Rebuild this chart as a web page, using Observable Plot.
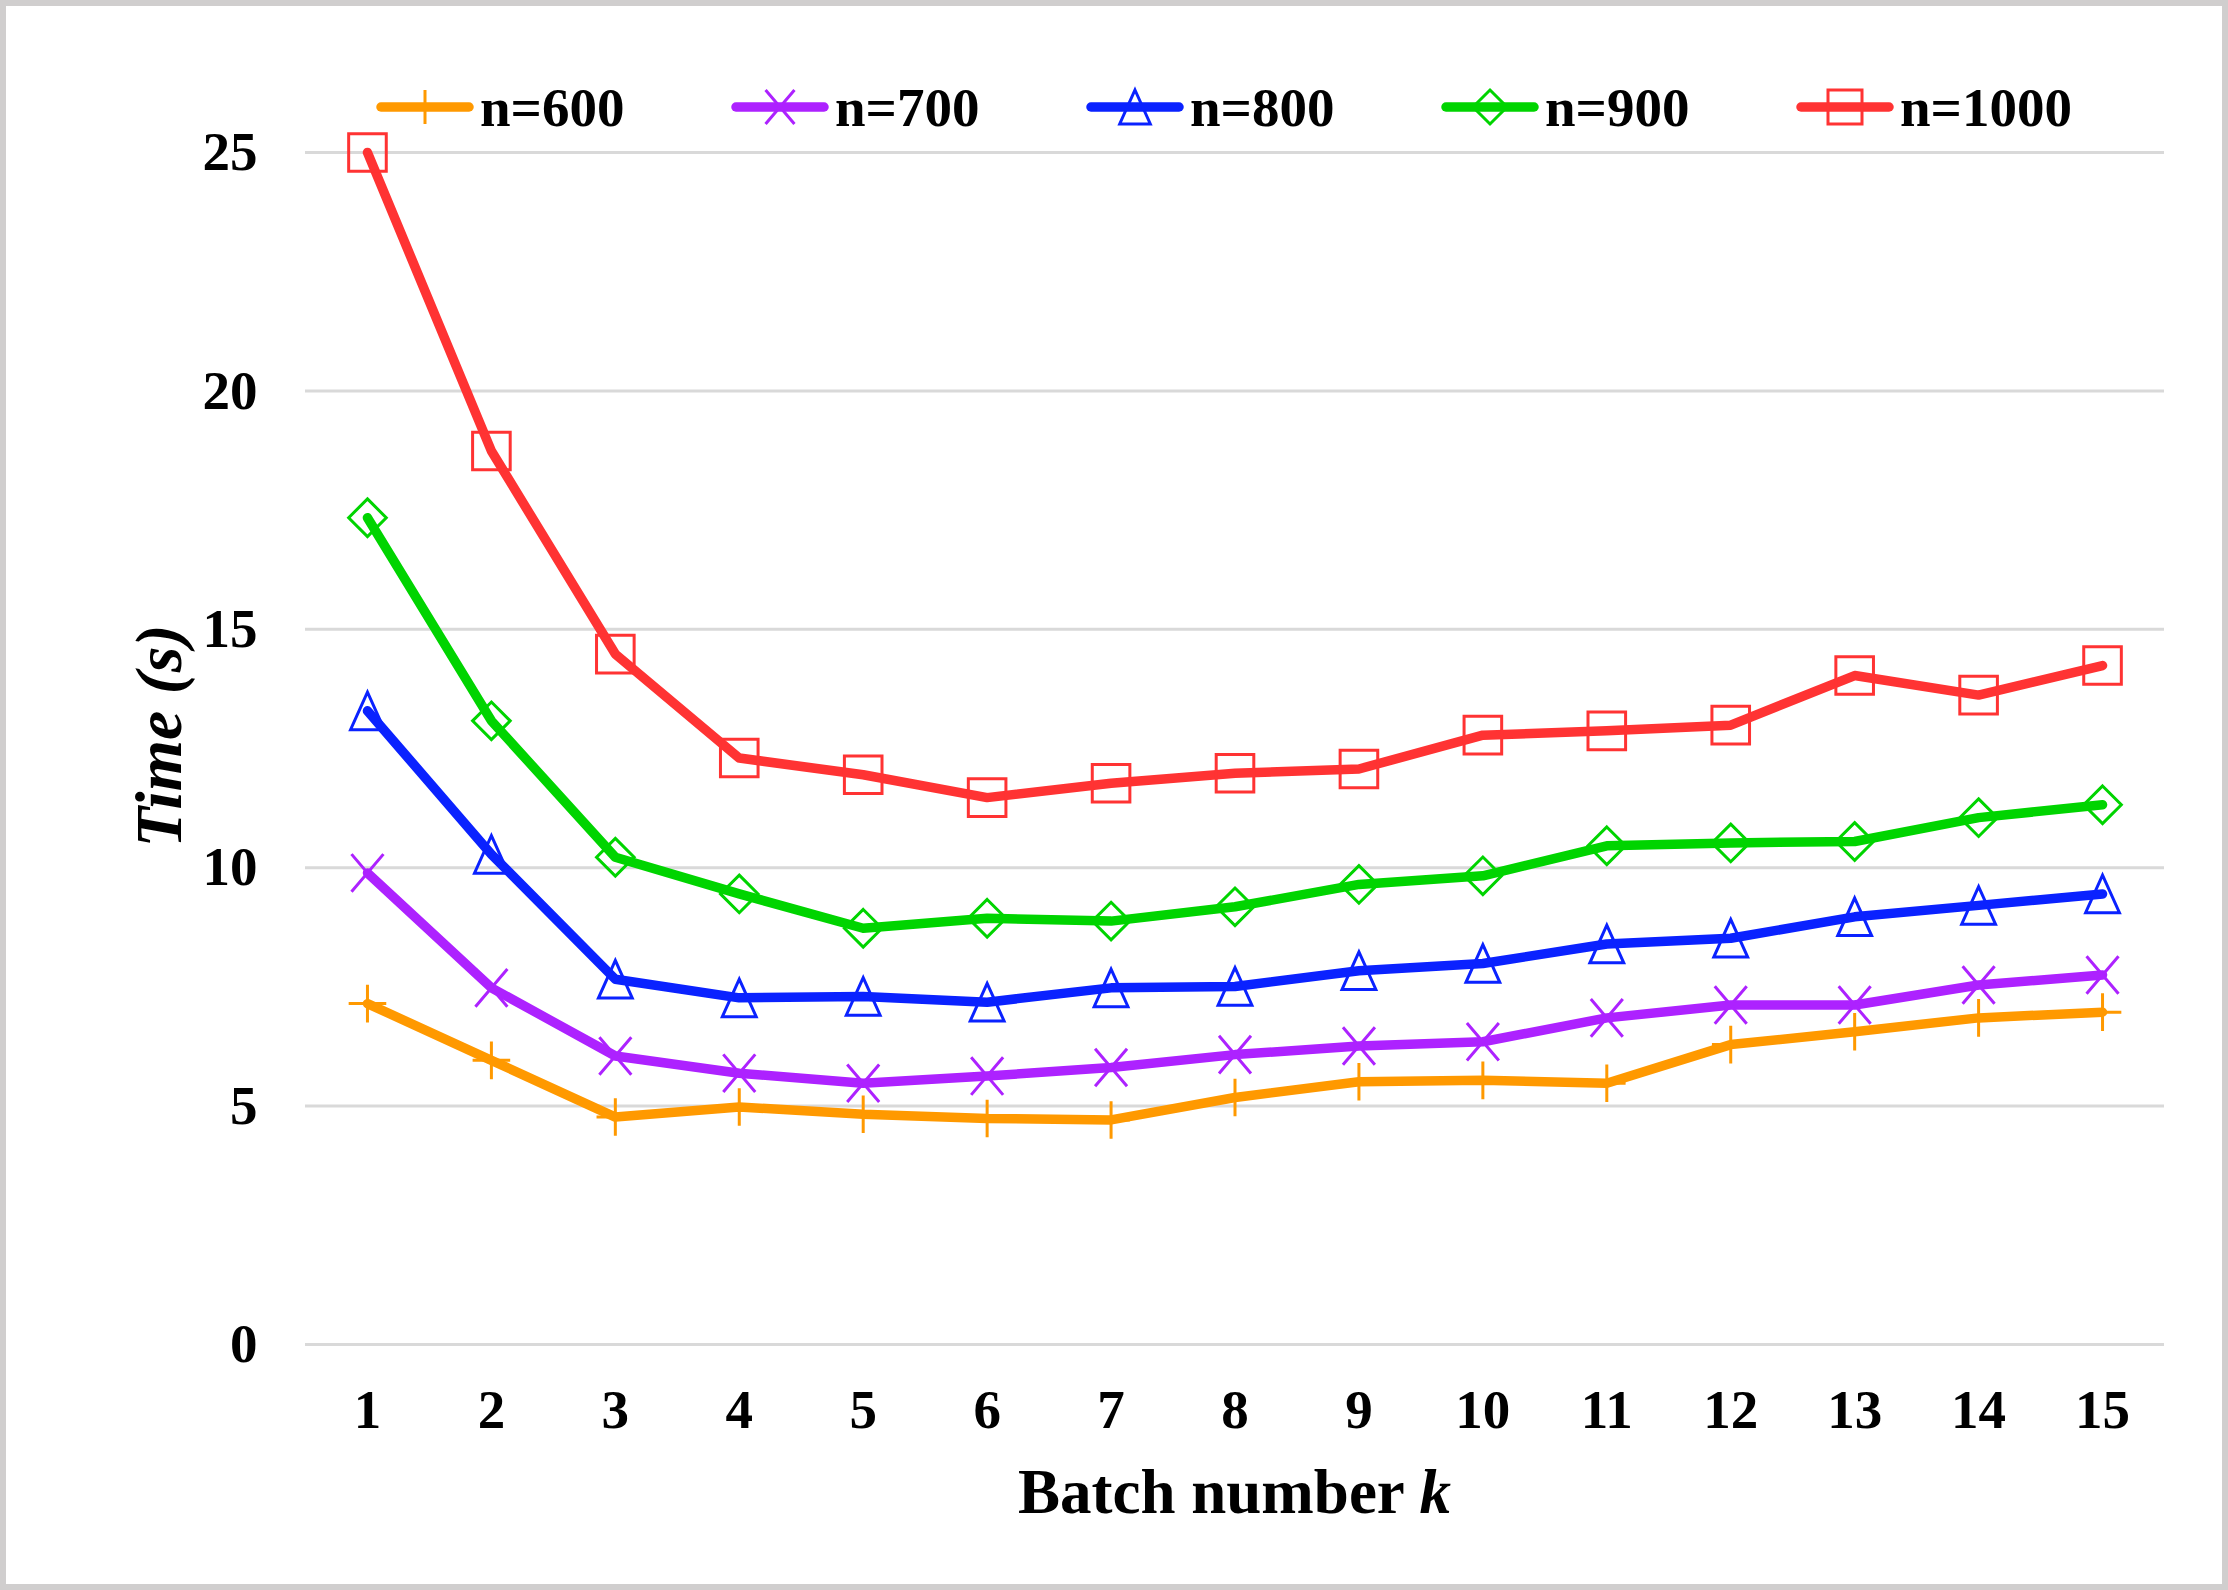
<!DOCTYPE html>
<html>
<head>
<meta charset="utf-8">
<script src="https://cdn.jsdelivr.net/npm/d3@7"></script>
<script src="https://cdn.jsdelivr.net/npm/@observablehq/plot@0.6"></script>
<style>
  html, body { margin: 0; padding: 0; background: #fff; }
  #page { position: relative; width: 2228px; height: 1590px; overflow: hidden; background: #fff;
          font-family: "Liberation Serif", "Times New Roman", serif; font-weight: bold; color: #000; }
  #frame { position: absolute; left: 0; top: 0; width: 2228px; height: 1590px; box-sizing: border-box;
           border: 6px solid #d0cece; pointer-events: none; }
  #chart { position: absolute; left: 0; top: 0; }
  .leg { position: absolute; top: 80px; height: 56px; display: flex; align-items: center; font-size: 55px; line-height: 56px; }
  .leg svg { display: block; margin-right: 6px; }
  #xtitle { position: absolute; left: 305px; width: 1859px; top: 1461px; text-align: center; font-size: 63px; line-height: 63px; white-space: nowrap; }
  #ytitle { position: absolute; left: 159px; top: 736px; transform: translate(-50%, -50%) rotate(-90deg);
            font-size: 66px; line-height: 66px; font-style: italic; white-space: nowrap; }
</style>
</head>
<body>
<div id="page">
  <div id="chart"></div>
  <div id="legend"></div>
  <div id="xtitle">Batch number <i>k</i></div>
  <div id="ytitle">Time (s)</div>
  <div id="frame"></div>
</div>
<script>
// ---- data ----
const batches = [1, 2, 3, 4, 5, 6, 7, 8, 9, 10, 11, 12, 13, 14, 15];
const seriesNames = ["n=600", "n=700", "n=800", "n=900", "n=1000"];
const seriesColors = ["#ff9900", "#ad22ff", "#0a22ff", "#00d400", "#ff3333"];
const yTicks = [0, 5, 10, 15, 20, 25];

const time600  = [7.15, 5.96, 4.77, 4.98, 4.83, 4.74, 4.71, 5.18, 5.51, 5.54, 5.48, 6.29, 6.56, 6.85, 6.97];
const time700  = [9.89, 7.48, 6.05, 5.69, 5.48, 5.63, 5.81, 6.08, 6.26, 6.35, 6.85, 7.12, 7.12, 7.54, 7.75];
const time800  = [13.29, 10.28, 7.66, 7.27, 7.30, 7.18, 7.48, 7.51, 7.84, 7.99, 8.40, 8.52, 8.97, 9.21, 9.45];
const time900  = [17.34, 13.08, 10.22, 9.45, 8.73, 8.94, 8.88, 9.18, 9.65, 9.83, 10.46, 10.52, 10.55, 11.05, 11.32];
const time1000 = [25.0, 18.74, 14.48, 12.30, 11.95, 11.47, 11.77, 11.98, 12.07, 12.78, 12.87, 12.99, 14.03, 13.62, 14.24];

const seriesValues = [time600, time700, time800, time900, time1000];

// ---- custom marker symbols (half extent = r) ----
const symPlus = { draw(ctx, size) { const h = Math.sqrt(size / Math.PI);
  ctx.moveTo(0, -h); ctx.lineTo(0, h); ctx.moveTo(-h, 0); ctx.lineTo(h, 0); } };
const symTimes = { draw(ctx, size) { const h = Math.sqrt(size / Math.PI);
  ctx.moveTo(-h * 0.85, -h); ctx.lineTo(h * 0.85, h); ctx.moveTo(h * 0.85, -h); ctx.lineTo(-h * 0.85, h); } };
const symTriangle = { draw(ctx, size) { const h = Math.sqrt(size / Math.PI);
  ctx.moveTo(0, -h); ctx.lineTo(h * 0.9, h); ctx.lineTo(-h * 0.9, h); ctx.closePath(); } };
const symDiamond = { draw(ctx, size) { const h = Math.sqrt(size / Math.PI);
  ctx.moveTo(0, -h); ctx.lineTo(h, 0); ctx.lineTo(0, h); ctx.lineTo(-h, 0); ctx.closePath(); } };
const symSquare = { draw(ctx, size) { const h = Math.sqrt(size / Math.PI);
  ctx.moveTo(-h, -h); ctx.lineTo(h, -h); ctx.lineTo(h, h); ctx.lineTo(-h, h); ctx.closePath(); } };
const seriesSymbols = [symPlus, symTimes, symTriangle, symDiamond, symSquare];

// ---- table ----
const rows = [];
seriesNames.forEach((s, i) => batches.forEach((k, j) => rows.push({ k, t: seriesValues[i][j], s })));

const W = 2228, H = 1590;
const chart = Plot.plot({
  width: W,
  height: H,
  marginLeft: 305,
  marginRight: 64,
  marginTop: 152,
  marginBottom: 246,
  style: { fontFamily: '"Liberation Serif", "Times New Roman", serif', fontWeight: "bold", fontSize: "55px", background: "transparent", color: "#000" },
  x: { domain: [0.5, 15.5] },
  y: { domain: [0, 25] },
  color: { domain: seriesNames, range: seriesColors },
  marks: [
    Plot.gridY({ ticks: yTicks, stroke: "#d9d9d9", strokeOpacity: 1, strokeWidth: 3 }),
    Plot.axisY({ ticks: yTicks, tickSize: 0, tickPadding: 48, label: null, fontSize: 55 }),
    Plot.axisX({ ticks: batches, tickSize: 0, tickPadding: 44, label: null, tickFormat: d => String(d), fontSize: 55 }),
    Plot.line(rows, { x: "k", y: "t", z: "s", stroke: "s", strokeWidth: 9.5, strokeLinejoin: "round", strokeLinecap: "round" }),
    ...seriesNames.map((s, i) => Plot.dot(rows.filter(d => d.s === s), {
      x: "k", y: "t", stroke: "s", symbol: seriesSymbols[i], r: 18.8, strokeWidth: 3, fill: "none"
    }))
  ]
});
document.getElementById("chart").appendChild(chart);

// ---- legend (HTML) ----
const legend = document.getElementById("legend");
seriesNames.forEach((s, i) => {
  const item = document.createElement("div");
  item.className = "leg";
  item.style.left = (372 + i * 355) + "px";
  const svg = d3.create("svg").attr("width", 102).attr("height", 56);
  svg.append("line").attr("x1", 9).attr("x2", 97).attr("y1", 27).attr("y2", 27)
    .attr("stroke", seriesColors[i]).attr("stroke-width", 9.5).attr("stroke-linecap", "round");
  const p = d3.path();
  seriesSymbols[i].draw(p, Math.PI * 17 * 17);
  svg.append("path").attr("d", p.toString()).attr("transform", "translate(53,27)")
    .attr("fill", "none").attr("stroke", seriesColors[i]).attr("stroke-width", 3);
  item.appendChild(svg.node());
  const label = document.createElement("span");
  label.textContent = s;
  item.appendChild(label);
  legend.appendChild(item);
});
</script>
</body>
</html>
